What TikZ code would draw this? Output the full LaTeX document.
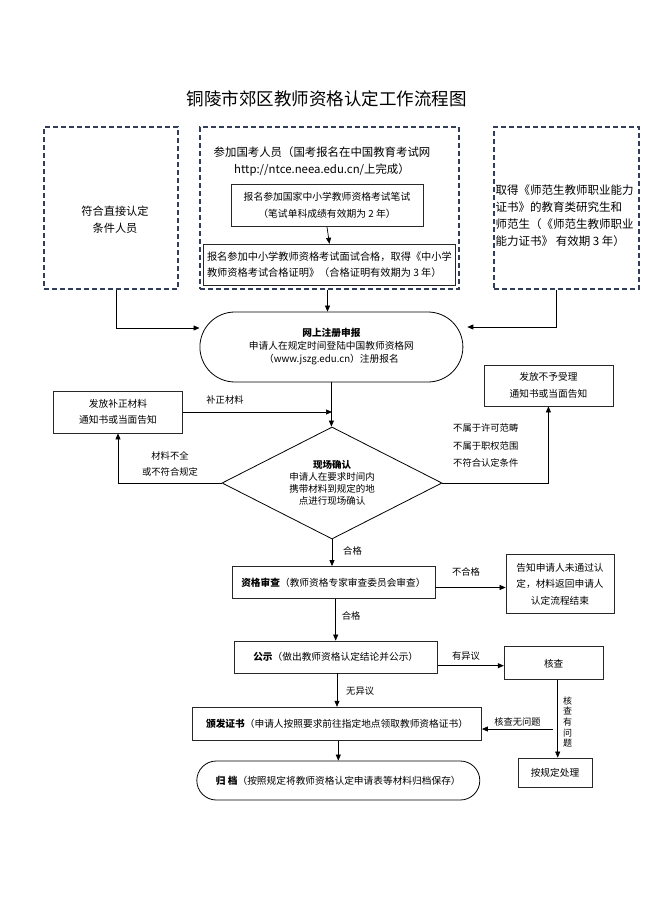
\documentclass[tikz,border=0pt]{standalone}
\usepackage{fontspec}
\setmainfont{Noto Sans CJK SC}
\usepackage{tikz}
\usetikzlibrary{shapes.geometric, shapes.misc, arrows.meta, positioning, calc}
\definecolor{dashnavy}{RGB}{50,62,88}
\definecolor{boxgray}{RGB}{40,40,40}

\begin{document}
\begin{tikzpicture}[
    x=1pt, y=-1pt,        % one unit = one pixel of the page
    dashbox/.style={rectangle, draw=dashnavy, line width=2.2pt, dash pattern=on 5pt off 3pt, inner sep=0pt},
    block/.style={rectangle, draw=boxgray, line width=0.8pt, inner sep=0pt, align=center,
                  font=\fontsize{9.7pt}{16.5pt}\selectfont},
    pill/.style={rounded rectangle, draw=black, line width=0.8pt, inner sep=0pt, align=center,
                 font=\fontsize{9.7pt}{13pt}\selectfont},
    decide/.style={diamond, aspect=2, draw=black, line width=0.8pt, inner sep=0pt, align=center,
                   font=\fontsize{9.5pt}{12pt}\selectfont},
    note/.style={inner sep=0pt, font=\fontsize{9.3pt}{16.5pt}\selectfont},
    arrow/.style={-{Triangle[length=6pt,width=5pt]}, line width=0.7pt, color=black}
]
\useasboundingbox (0,0) rectangle (650,920);

\node[font=\fontsize{17.5pt}{20pt}\selectfont] (title) at (326.5,99) {铜陵市郊区教师资格认定工作流程图};

% three ways in
\node[dashbox, minimum width=134pt, minimum height=162pt] (direct) at (110.8,207.8) {};
\node[note, align=center, font=\fontsize{11.2pt}{17pt}\selectfont] (directtxt) at (115,219.5) {符合直接认定\\条件人员};

\node[dashbox, minimum width=259pt, minimum height=162pt] (exam) at (329.5,207.8) {};
\node[note, align=center, font=\fontsize{11.4pt}{17.3pt}\selectfont] (examtxt) at (322,161.4)
    {参加国考人员（国考报名在中国教育考试网\\http://ntce.neea.edu.cn/上完成）};
\node[block, minimum width=192pt, minimum height=42pt, font=\fontsize{9.8pt}{17pt}\selectfont] (written) at (327,205.5)
    {报名参加国家中小学教师资格考试笔试\\（笔试单科成绩有效期为 2 年）};
\node[block, minimum width=252pt, minimum height=41pt, align=left, font=\fontsize{10.2pt}{16.3pt}\selectfont] (interview) at (329.4,264.7)
    {报名参加中小学教师资格考试面试合格，取得《中小学\\教师资格考试合格证明》（合格证明有效期为 3 年）};
\draw[arrow] (written.south) -- (interview.north);

\node[dashbox, minimum width=145pt, minimum height=162pt] (normal) at (566.7,207.8) {};
\node[note, anchor=west, align=left, font=\fontsize{11.5pt}{16.9pt}\selectfont] (normaltxt) at (495.5,215.4)
    {取得《师范生教师职业能力\\证书》的教育类研究生和\\师范生（《师范生教师职业\\能力证书》 有效期 3 年）};

% online registration
\node[pill, minimum width=263pt, minimum height=70pt] (reg) at (331.4,347)
    {\textbf{网上注册申报}\\申请人在规定时间登陆中国教师资格网\\（www.jszg.edu.cn）注册报名};

\draw[arrow] ([xshift=6pt]direct.south) |- ([yshift=19pt]reg.west);
\draw[arrow] ([xshift=-2pt]exam.south) -- ([xshift=-2pt]exam.south |- reg.north);
\draw[arrow] ([xshift=-10pt]normal.south) |- ([xshift=4pt,yshift=20pt]reg.east);

% on-site check
\node[decide, minimum width=220pt, minimum height=112pt] (site) at (332,483)
    {\textbf{现场确认}\\申请人在要求时间内\\携带材料到规定的地\\点进行现场确认};
\draw[arrow] (reg.south) -- (reg.south |- site.north);

\node[block, minimum width=129pt, minimum height=42pt] (fix) at (118,412) {发放补正材料\\通知书或当面告知};
\node[block, minimum width=129pt, minimum height=41pt, font=\fontsize{9.7pt}{17pt}\selectfont] (reject) at (548.4,385.5) {发放不予受理\\通知书或当面告知};

\draw[arrow] (fix.east) -- (fix.east -| site.north);
\node[note] (fixlbl) at (225,400) {补正材料};
\draw[arrow] (site.west) -| (fix.south);
\node[note, align=center] (lacklbl) at (170,464) {材料不全\\或不符合规定};
\draw[arrow] (site.east) -| (reject.south);
\node[note, anchor=west, align=left, font=\fontsize{9.3pt}{17.5pt}\selectfont] (outlbl) at (453,445.7)
    {不属于许可范畴\\不属于职权范围\\不符合认定条件};

% expert review
\node[block, minimum width=203pt, minimum height=32pt] (review) at (333.4,582.5)
    {\textbf{资格审查}（教师资格专家审查委员会审查）};
\draw[arrow] (site.south) -- (site.south |- review.north);
\node[note, anchor=west] (ok1) at (343,551) {合格};

\node[block, minimum width=108pt, minimum height=59pt] (fail) at (560,584)
    {告知申请人未通过认\\定，材料返回申请人\\认定流程结束};
\draw[arrow] ([yshift=-5pt]review.east) -- ([yshift=-5pt]review.east -| fail.west);
\node[note] (faillbl) at (466,572) {不合格};

% publicity
\node[block, minimum width=203pt, minimum height=32pt] (pub) at (335.7,657)
    {\textbf{公示}（做出教师资格认定结论并公示）};
\draw[arrow] (pub.north |- review.south) -- (pub.north);
\node[note, anchor=west] (ok2) at (341.7,616) {合格};

\node[block, minimum width=99pt, minimum height=33pt] (verify) at (553.7,663.3) {核查};
\draw[arrow] ([yshift=-8.7pt]pub.east) -- ([yshift=-8.7pt]pub.east -| verify.west);
\node[note] (objlbl) at (466,656) {有异议};

% certificate
\node[block, minimum width=289pt, minimum height=33pt] (issue) at (337,723.7)
    {\textbf{颁发证书}（申请人按照要求前往指定地点领取教师资格证书）};
\draw[arrow] (issue.north |- pub.south) -- (issue.north);
\node[note, anchor=west] (noobjlbl) at (346,690.7) {无异议};

\node[block, minimum width=74pt, minimum height=29pt] (handle) at (555,772.5) {按规定处理};
\draw[arrow] ([xshift=4pt]verify.south) -- ([xshift=4pt]verify.south |- handle.north);
\node[note, align=center, font=\fontsize{9pt}{10.6pt}\selectfont] (badlbl) at (567.7,722) {核\\查\\有\\问\\题};

\coordinate (okpt) at (553,729);
\draw[arrow] (okpt) -- (okpt -| issue.east);
\node[note] (goodlbl) at (517.5,722) {核查无问题};

% archive
\node[pill, minimum width=283pt, minimum height=39pt] (archive) at (338.3,780.5)
    {\textbf{归\ 档}（按照规定将教师资格认定申请表等材料归档保存）};
\draw[arrow] (archive.north |- issue.south) -- (archive.north);

\end{tikzpicture}
\end{document}
